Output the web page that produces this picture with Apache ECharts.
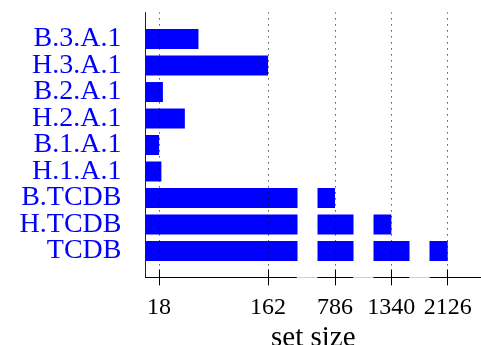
<!DOCTYPE html>
<html>
<head>
<meta charset="utf-8">
<title>Set sizes</title>
<script src="https://cdn.jsdelivr.net/npm/echarts@6/dist/echarts.min.js"></script>
<style>
  html, body { margin: 0; padding: 0; background: #fff; }
  #chart { width: 481px; height: 345px; }
</style>
</head>
<body>
<div id="chart"></div>
<script>
// Set names, listed top to bottom as they appear on the chart
const categories = ['B.3.A.1', 'H.3.A.1', 'B.2.A.1', 'H.2.A.1', 'B.1.A.1', 'H.1.A.1', 'B.TCDB', 'H.TCDB', 'TCDB'];
// Number of elements in each set
const setSizes = [70, 162, 23, 52, 18, 21, 786, 1340, 2126];
// Labelled positions on the size axis
const tickValues = [18, 162, 786, 1340, 2126];
// Ranges of the size axis that are cut out
const axisBreaks = [[200, 762], [810, 1316], [1364, 2102]];

const xMin = 0;
const xMax = 2170;
const breakGap = 26.5;

const BLUE = '#0000ff';
const SERIF = '"Liberation Serif", "DejaVu Serif", serif';

// Category axis runs bottom-up, with an empty slot at each end for padding
const yData = [''].concat(categories.slice().reverse(), ['']);
const barData = ['-'].concat(setSizes.slice().reverse(), ['-']);

const breaks = axisBreaks.map(([s, e]) => ({ start: s, end: e, gap: breakGap }));

const chart = echarts.init(document.getElementById('chart'), null, { renderer: 'canvas' });

chart.setOption({
  animation: false,
  backgroundColor: '#fff',
  grid: {
    left: 145.5, right: 0, top: 12.6, bottom: 345 - 277.4,
    containLabel: false,
    outerBoundsMode: 'none'
  },
  xAxis: [
    {
      type: 'value',
      min: xMin,
      max: xMax,
      breaks: breaks,
      breakArea: {
        show: true,
        expandOnClick: false,
        zigzagAmplitude: 0,
        zigzagZ: 100,
        itemStyle: { color: '#fff', borderColor: '#fff', borderWidth: 0, opacity: 1 }
      },
      axisLine: { show: true, onZero: false, lineStyle: { color: '#000', width: 1 } },
      axisTick: { show: true, customValues: tickValues, length: 8, lineStyle: { color: '#000', width: 1 } },
      axisLabel: {
        customValues: tickValues,
        formatter: v => String(v),
        color: '#000',
        fontFamily: SERIF,
        fontSize: 24,
        margin: 18
      },
      splitLine: { show: false },
      name: 'set size',
      nameLocation: 'middle',
      nameGap: 44,
      nameTextStyle: { color: '#000', fontFamily: SERIF, fontSize: 29 }
    },
    {
      // upward half of the cross-shaped tick marks
      type: 'value',
      position: 'bottom',
      min: xMin,
      max: xMax,
      breaks: breaks,
      breakArea: { show: false },
      axisLine: { show: false, onZero: false },
      axisTick: { show: true, inside: true, customValues: tickValues, length: 8, lineStyle: { color: '#000', width: 1 } },
      axisLabel: { show: false },
      splitLine: { show: false }
    }
  ],
  yAxis: {
    type: 'category',
    data: yData,
    boundaryGap: false,
    axisLine: { show: true, lineStyle: { color: '#222', width: 1 } },
    axisTick: { show: false },
    axisLabel: {
      interval: 0,
      color: BLUE,
      fontFamily: SERIF,
      fontSize: 28,
      margin: 24
    },
    splitLine: { show: false }
  },
  series: [
    {
      type: 'bar',
      xAxisIndex: 0,
      data: barData,
      barWidth: 20,
      itemStyle: { color: BLUE },
      markLine: {
        silent: true,
        symbol: 'none',
        label: { show: false },
        lineStyle: { color: '#000', width: 1, type: [1, 5] },
        data: tickValues.map(v => ({ xAxis: v }))
      }
    }
  ]
});

// Faint grey axis segments across each cut-out range
const axisY = Math.floor(chart.convertToPixel({ yAxisIndex: 0 }, 0)) + 0.5;
const gapSegments = axisBreaks.map(([s, e]) => {
  const x1 = chart.convertToPixel({ xAxisIndex: 0 }, s);
  const x2 = chart.convertToPixel({ xAxisIndex: 0 }, e);
  return {
    type: 'line',
    z: 300,
    silent: true,
    shape: { x1: x1, y1: axisY, x2: x2, y2: axisY },
    style: { stroke: '#d0d0d0', lineWidth: 1 }
  };
});
chart.setOption({ graphic: { elements: gapSegments } });
</script>
</body>
</html>
